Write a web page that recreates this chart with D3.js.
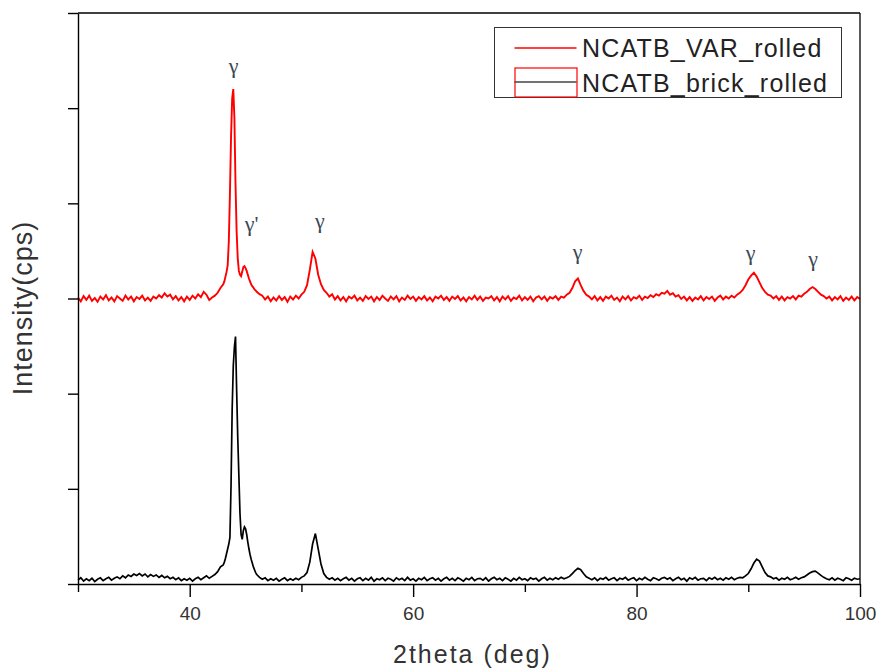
<!DOCTYPE html>
<html>
<head>
<meta charset="utf-8">
<script src="https://cdnjs.cloudflare.com/ajax/libs/d3/7.8.5/d3.min.js"></script>
<style>
  body { margin: 0; background: #fff; }
  text { font-family: "Liberation Sans", Arial, sans-serif; }
</style>
</head>
<body>
<div id="chart"></div>
<script>
// 2theta sampling, finer step over the main peak
var thetaA = d3.range(120, 172).map(function(d) { return d / 4; });   // 30.00 .. 42.75
var thetaB = d3.range(430, 460).map(function(d) { return d / 10; });  // 43.0 .. 45.9
var thetaC = d3.range(184, 401).map(function(d) { return d / 4; });   // 46.00 .. 100.00

// NCATB_VAR_rolled (before stacking offset)
var varA = [
  10, -30, 25, -15, 30, -25, 5, -35,
  20, -10, 35, -20, 10, -30, 25, 0,
  -25, 30, -10, 20, -30, 15, -5, 30,
  -20, 10, -25, 20, 0, 35, 10, 55,
  20, 40, -10, 25, -20, 15, -30, 20,
  -15, 30, 0, 45, 15, 70, 40, -15,
  10, 30, 60, 110];
var varB = [
  150, 180, 230, 280, 350, 600, 1100, 1700, 2100, 2200,
  1900, 1200, 700, 420, 290, 250, 235, 280, 330, 340,
  320, 290, 250, 210, 180, 150, 130, 115, 95, 85];
var varC = [
  70, 45, 30, -10, 20, -30, 10, -20,
  25, -15, 15, -35, 20, -10, 30, 0,
  40, 70, 140, 300, 490, 420, 250, 150,
  90, 60, 20, 45, -10, 25, -20, 15,
  -30, 20, 0, 30, -20, 10, -25, 25,
  -5, 20, -30, 15, -15, 30, 0, -25,
  20, -10, 25, -30, 10, -15, 30, -5,
  20, -25, 15, -10, 25, -20, 10, -30,
  20, 0, 30, -15, 15, -25, 20, -5,
  25, -20, 10, -30, 15, -10, 30, -15,
  20, -25, 10, 0, 25, -20, 15, -30,
  20, -10, 25, -25, 10, -5, 30, -20,
  15, -15, 20, -30, 10, 25, -10, 20,
  -25, 15, 0, 25, -15, 20, 10, 40,
  60, 110, 180, 210, 140, 80, 40, 20,
  -10, 25, -20, 15, -25, 20, 0, 30,
  -15, 10, -30, 20, -10, 25, -20, 15,
  0, 30, -15, 20, 5, 35, 15, 45,
  30, 60, 50, 80, 40, 55, 20, 35,
  -5, 20, -20, 15, -25, 10, -10, 25,
  -20, 15, -5, 20, -25, 10, 30, -10,
  20, 0, 30, 10, 40, 60, 90, 140,
  200, 240, 270, 230, 170, 110, 70, 40,
  30, 0, 25, -15, 20, -20, 15, 0,
  25, -10, 30, 20, 50, 70, 100, 120,
  100, 70, 40, 25, 0, 20, -20, 15,
  -10, 25, -25, 10, -15, 20, -20, 15,
  -5];

// NCATB_brick_rolled
var brickA = [
  0, 25, -10, 15, -5, 20, -15, 10,
  25, -5, 15, 30, 0, 20, 35, 15,
  45, 25, 55, 40, 65, 50, 70, 45,
  65, 35, 60, 40, 55, 30, 50, 25,
  40, 15, 30, 5, 25, -5, 15, 0,
  20, -10, 15, 30, 5, 25, 45, 20,
  40, 60, 90, 140];
var brickB = [
  160, 190, 230, 280, 330, 380, 450, 1000, 1800, 2250,
  2450, 2560, 2000, 1500, 1100, 700, 480, 430, 520, 560,
  540, 480, 400, 330, 270, 220, 180, 140, 110, 80];
var brickC = [
  60, 30, 10, 25, -5, 15, 0, 20,
  -10, 10, 25, -5, 15, 0, 20, 5,
  30, 45, 80, 190, 380, 490, 330, 170,
  70, 30, 10, 25, 0, 20, -5, 15,
  30, 0, 20, -10, 15, 25, -5, 20,
  0, 30, -10, 15, 5, 25, -5, 20,
  10, -10, 25, 5, 20, -5, 30, 0,
  15, -10, 20, 5, 30, -5, 15, 25,
  0, 20, -10, 15, 30, 0, 20, -5,
  25, 10, -10, 20, 5, 30, -5, 15,
  20, 0, 25, -10, 15, 30, 5, 20,
  -5, 25, 10, -10, 20, 0, 30, 5,
  15, -5, 25, 10, 20, -10, 15, 30,
  0, 20, 5, 25, 10, 30, 15, 25,
  40, 70, 100, 125, 110, 70, 35, 20,
  5, 25, -5, 20, 10, 30, 0, 15,
  25, -5, 20, 10, 30, 0, 15, 25,
  -5, 20, 5, 30, 10, -5, 25, 15,
  0, 20, 30, 10, 25, -5, 15, 30,
  5, 20, -10, 25, 10, 30, 0, 15,
  20, -5, 25, 10, 30, 5, 20, 0,
  25, 10, 30, 5, 20, 30, 25, 45,
  70, 120, 180, 220, 200, 140, 80, 45,
  35, 15, 25, 0, 20, 10, 30, 5,
  15, 30, 10, 25, 35, 55, 75, 90,
  95, 75, 50, 30, 15, 5, 25, 0,
  20, 10, -5, 25, 15, 0, 20, 10,
  15];

var seriesNames = ["NCATB_VAR_rolled", "NCATB_brick_rolled"];
var seriesColors = ["#ff0000", "#000000"];
var seriesWidths = [1.9, 1.7];
var seriesOffsets = [3000, 40];   // stacked display

var xTicks = [40, 60, 80, 100];
var xMinorTicks = [30, 50, 70, 90];
var yTicks = [0, 1000, 2000, 3000, 4000, 5000, 6000];

// phase labels
var peakTheta = [43.92, 45.55, 51.66, 74.73, 90.21, 95.8];
var peakLevel = [5370, 3710, 3745, 3415, 3405, 3345];
var peakText = ["γ", "γ'", "γ", "γ", "γ", "γ"];

function zip(thetas, values, offset) {
  var out = [];
  thetas.forEach(function(t, i) {
    for (var j = 0; j < t.length && j < values[i].length; j++) {
      out.push({x: t[j], y: values[i][j] + offset});
    }
  });
  return out;
}

var series = [
  zip([thetaA, thetaB, thetaC], [varA, varB, varC], seriesOffsets[0]),
  zip([thetaA, thetaB, thetaC], [brickA, brickB, brickC], seriesOffsets[1])
];

var margin = {top: 13, right: 18, bottom: 87, left: 78},
    width = 878 - margin.left - margin.right,
    height = 671 - margin.top - margin.bottom;

var svg = d3.select("#chart")
  .append("svg")
    .attr("width", 878)
    .attr("height", 671)
  .append("g")
    .attr("transform", "translate(" + margin.left + "," + margin.top + ")");

var x = d3.scaleLinear().domain([30, 100]).range([0, width]);
var y = d3.scaleLinear().domain([0, 6000]).range([height, 0]);

var line = d3.line()
  .x(function(d) { return x(d.x); })
  .y(function(d) { return y(d.y); });

// draw black first, red on top
svg.selectAll(".trace")
  .data([1, 0])
  .enter()
  .append("path")
    .attr("class", "trace")
    .attr("fill", "none")
    .attr("stroke", function(i) { return seriesColors[i]; })
    .attr("stroke-width", function(i) { return seriesWidths[i]; })
    .attr("stroke-linejoin", "miter")
    .attr("d", function(i) { return line(series[i]); });

// frame
svg.append("line")
  .attr("x1", 0).attr("x2", width).attr("y1", 0).attr("y2", 0)
  .attr("stroke", "#000").attr("stroke-width", 1.3);
svg.append("line")
  .attr("x1", width).attr("x2", width).attr("y1", 0).attr("y2", height)
  .attr("stroke", "#000").attr("stroke-width", 1.3);

var xAxis = svg.append("g")
  .attr("transform", "translate(0," + height + ")")
  .call(d3.axisBottom(x).tickValues(xTicks).tickSize(13).tickSizeOuter(0).tickPadding(10));
xAxis.selectAll("text")
  .attr("font-size", 19)
  .attr("fill", "#333")
  .style("font-family", "'Liberation Sans', Arial, sans-serif");

var xMinor = svg.append("g")
  .attr("transform", "translate(0," + height + ")")
  .call(d3.axisBottom(x).tickValues(xMinorTicks).tickSize(8).tickFormat(""));
xMinor.select(".domain").remove();

var yAxis = svg.append("g")
  .call(d3.axisLeft(y).tickValues(yTicks).tickSize(10).tickSizeOuter(0).tickFormat(""));

svg.selectAll(".domain, .tick line")
  .attr("stroke", "#000")
  .attr("stroke-width", 1.4);

// axis titles
svg.append("text")
  .attr("x", 393 - margin.left)
  .attr("y", height + 79)
  .attr("font-size", 25)
  .attr("letter-spacing", 2)
  .attr("fill", "#333")
  .text("2theta (deg)");

svg.append("text")
  .attr("transform", "translate(" + (32 - margin.left) + "," + (308 - margin.top) + ") rotate(-90)")
  .attr("text-anchor", "middle")
  .attr("font-size", 27)
  .attr("letter-spacing", 1)
  .attr("fill", "#333")
  .text("Intensity(cps)");

// peak labels
svg.selectAll(".peak")
  .data(peakText)
  .enter()
  .append("text")
    .attr("class", "peak")
    .attr("x", function(d, i) { return x(peakTheta[i]); })
    .attr("y", function(d, i) { return y(peakLevel[i]); })
    .attr("text-anchor", "middle")
    .attr("font-size", 22)
    .attr("fill", "#3b4655")
    .style("font-family", "'Liberation Serif', 'Times New Roman', serif")
    .text(function(d) { return d; });

// legend
var legend = svg.append("g")
  .attr("transform", "translate(" + (494.5 - margin.left) + "," + (27.5 - margin.top) + ")");

legend.append("rect")
  .attr("width", 347)
  .attr("height", 70)
  .attr("fill", "#fff")
  .attr("stroke", "#333")
  .attr("stroke-width", 1);

legend.append("line")
  .attr("x1", 20).attr("x2", 82).attr("y1", 20.5).attr("y2", 20.5)
  .attr("stroke", seriesColors[0]).attr("stroke-width", 1.3);

legend.append("rect")
  .attr("x", 20.5).attr("y", 40.5).attr("width", 62).attr("height", 29)
  .attr("fill", "none")
  .attr("stroke", seriesColors[0]).attr("stroke-width", 1.2);

legend.append("line")
  .attr("x1", 20).attr("x2", 82).attr("y1", 54.5).attr("y2", 54.5)
  .attr("stroke", "#444").attr("stroke-width", 1.5);

legend.selectAll(".lbl")
  .data(seriesNames)
  .enter()
  .append("text")
    .attr("class", "lbl")
    .attr("x", 87.5)
    .attr("y", function(d, i) { return i == 0 ? 29.5 : 64.5; })
    .attr("font-size", 25)
    .attr("letter-spacing", 1.2)
    .attr("fill", "#222")
    .text(function(d) { return d; });
</script>
</body>
</html>
